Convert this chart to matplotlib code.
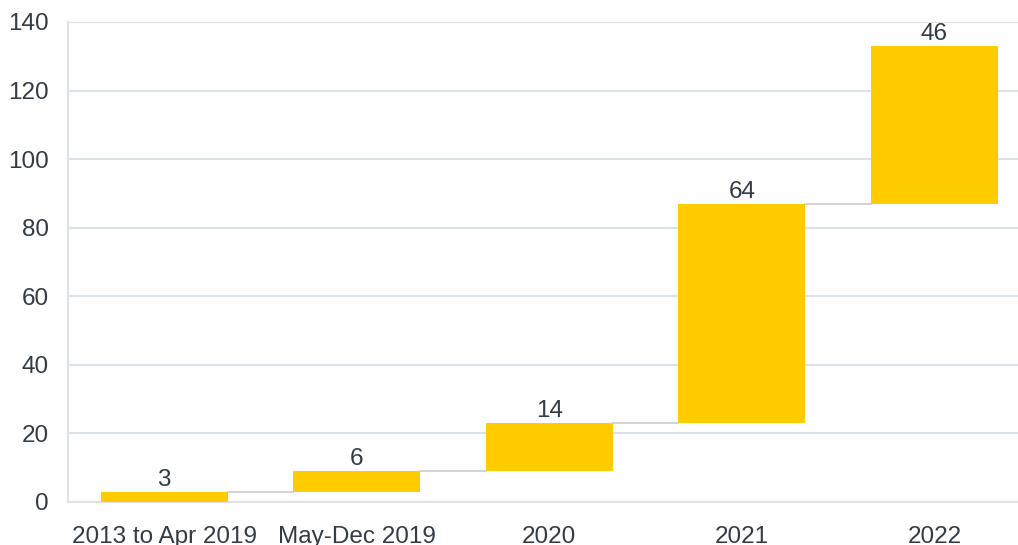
import numpy as np
import matplotlib.pyplot as plt

plt.rcParams['font.family'] = ['Liberation Sans', 'DejaVu Sans']

categories = ['2013 to Apr 2019', 'May-Dec 2019', '2020', '2021', '2022']
values = [3, 6, 14, 64, 46]

cum = np.cumsum(values)
bottoms = cum - np.array(values)
x = np.arange(len(categories))
width = 0.66

fig = plt.figure(figsize=(10.18, 5.45), dpi=100)
ax = fig.add_axes([68 / 1018, 43 / 545, 950 / 1018, 480 / 545])

grid_c = '#dbe2ea'
text_c = '#333b45'

ax.bar(x, values, bottom=bottoms, width=width, color='#ffcc00', zorder=3)

# connectors between bars
for i in range(len(x) - 1):
    ax.plot([x[i] + width / 2, x[i + 1] - width / 2], [cum[i], cum[i]],
            color='#d4d4d4', linewidth=1.5, zorder=2)

for xi, v, top in zip(x, values, cum):
    ax.text(xi, top + 0.2, str(v), ha='center', va='bottom',
            fontsize=17.5, color=text_c)

ax.set_xlim(-0.5, 4.434)
ax.set_ylim(0, 140)
ax.set_yticks(np.arange(0, 141, 20))
ax.set_xticks(x)
ax.set_xticklabels(categories)

ax.grid(axis='y', color=grid_c, linewidth=1.5, zorder=0)
ax.set_axisbelow(True)
for s in ['top', 'right']:
    ax.spines[s].set_visible(False)
for s in ['left', 'bottom']:
    ax.spines[s].set_color(grid_c)
    ax.spines[s].set_linewidth(1.5)

ax.tick_params(axis='both', length=0, labelsize=17.5, colors=text_c)
ax.tick_params(axis='x', pad=17)
ax.tick_params(axis='y', pad=14)

plt.savefig('out.png', dpi=100)
